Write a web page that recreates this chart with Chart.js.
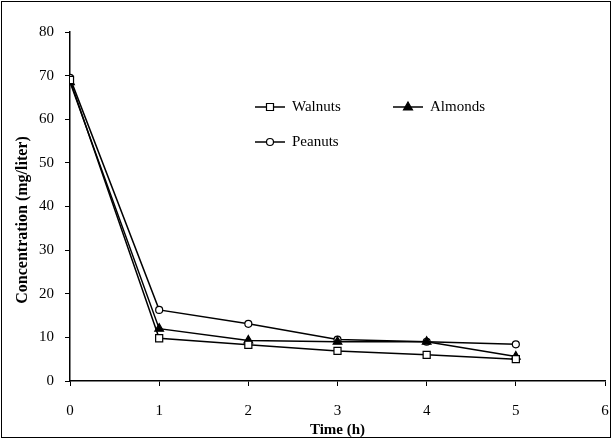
<!DOCTYPE html>
<html>
<head>
<meta charset="utf-8">
<script src="https://cdn.jsdelivr.net/npm/chart.js@4/dist/chart.umd.min.js"></script>
<style>
  html, body { margin: 0; padding: 0; background: #fff; }
  canvas { display: block; }
</style>
</head>
<body>
<canvas id="chart" width="612" height="439"></canvas>
<script>
// time points (h)
const timeH = [0, 1, 2, 3, 4, 5];
// concentration (mg/liter)
const walnuts = [69, 9.8, 8.3, 6.9, 6.0, 5.0];
const almonds = [68.5, 12.0, 9.3, 9.0, 9.0, 5.6];
const peanuts = [69.5, 16.3, 13.1, 9.5, 9.0, 8.4];
const seriesNames = ["Walnuts", "Almonds", "Peanuts"];
const xTitle = "Time (h)";
const yTitle = "Concentration (mg/liter)";

const serif = "'Liberation Serif', 'DejaVu Serif', serif";

const toPts = (arr) => arr.map((v, i) => ({ x: timeH[i], y: v }));

const common = {
  borderColor: "#000",
  borderWidth: 1.5,
  pointBorderColor: "#000",
  pointBorderWidth: 1.2,
  tension: 0,
  fill: false,
};

const datasets = [
  { ...common, label: seriesNames[0], data: toPts(walnuts), pointStyle: "rect", pointRadius: 5, pointBackgroundColor: "#fff" },
  { ...common, label: seriesNames[1], data: toPts(almonds), pointStyle: "triangle", pointRadius: 5, pointBackgroundColor: "#000" },
  { ...common, label: seriesNames[2], data: toPts(peanuts), pointStyle: "circle", pointRadius: 3.5, pointBackgroundColor: "#fff" },
];

// hand-drawn legend inside plot, like the original figure
const legendSpots = [
  { x: 255, y: 107 },
  { x: 393, y: 107 },
  { x: 255, y: 142 },
];

const drawMarker = (ctx, ds, x, y) => {
  const r = ds.pointRadius;
  ctx.save();
  ctx.lineWidth = 1.2;
  ctx.strokeStyle = "#000";
  ctx.fillStyle = ds.pointBackgroundColor;
  ctx.beginPath();
  if (ds.pointStyle === "rect") {
    ctx.rect(x - r * 0.7, y - r * 0.7, r * 1.4, r * 1.4);
  } else if (ds.pointStyle === "triangle") {
    ctx.moveTo(x, y - r);
    ctx.lineTo(x + r * 0.9, y + r * 0.6);
    ctx.lineTo(x - r * 0.9, y + r * 0.6);
    ctx.closePath();
  } else {
    ctx.arc(x, y, r, 0, Math.PI * 2);
  }
  ctx.fill();
  ctx.stroke();
  ctx.restore();
};

const figureExtras = {
  id: "figureExtras",
  afterDraw(chart) {
    const ctx = chart.ctx;
    ctx.save();
    // outer frame
    ctx.strokeStyle = "#000";
    ctx.lineWidth = 1;
    ctx.strokeRect(1.5, 1.5, chart.width - 3, chart.height - 3);
    // legend
    ctx.font = "15px " + serif;
    ctx.textBaseline = "middle";
    ctx.fillStyle = "#000";
    chart.data.datasets.forEach((ds, i) => {
      const p = legendSpots[i];
      ctx.beginPath();
      ctx.lineWidth = 1.5;
      ctx.moveTo(p.x, p.y);
      ctx.lineTo(p.x + 30, p.y);
      ctx.stroke();
      drawMarker(ctx, ds, p.x + 15, p.y);
      ctx.fillText(ds.label, p.x + 37, p.y);
    });
    // axis titles (placed as in the source figure)
    ctx.textAlign = "center";
    ctx.font = "bold 15px " + serif;
    ctx.fillText(xTitle, chart.scales.x.getPixelForValue(3), 430);
    ctx.translate(23, 220);
    ctx.rotate(-Math.PI / 2);
    ctx.font = "bold 16px " + serif;
    ctx.fillText(yTitle, 0, 0);
    ctx.restore();
  },
};

new Chart(document.getElementById("chart").getContext("2d"), {
  type: "line",
  data: { datasets: datasets },
  options: {
    responsive: false,
    animation: false,
    layout: { padding: { left: 2, right: 7, top: 32, bottom: 6 } },
    plugins: {
      legend: { display: false },
      tooltip: { enabled: false },
    },
    scales: {
      x: {
        type: "linear",
        min: 0,
        max: 6,
        afterFit: (s) => {
          s.height = 52;
          s.paddingLeft = 0;
          s.paddingRight = 0;
        },
        ticks: { stepSize: 1, color: "#000", padding: 16, maxRotation: 0, font: { family: serif, size: 15 } },
        grid: { display: true, drawOnChartArea: false, drawTicks: true, tickLength: 5, color: "#000" },
        border: { color: "#000", width: 1.5 },
      },
      y: {
        type: "linear",
        min: 0,
        max: 80,
        afterFit: (s) => { s.width = 68; },
        ticks: { stepSize: 10, color: "#000", padding: 11, font: { family: serif, size: 15 } },
        grid: { display: true, drawOnChartArea: false, drawTicks: true, tickLength: 5, color: "#000" },
        border: { color: "#000", width: 1.5 },
      },
    },
  },
  plugins: [figureExtras],
});
</script>
</body>
</html>
